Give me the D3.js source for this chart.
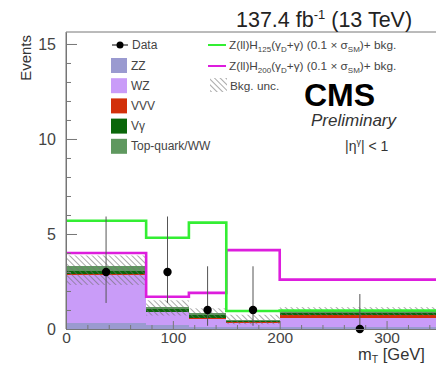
<!DOCTYPE html>
<html><head><meta charset="utf-8">
<script src="https://cdn.jsdelivr.net/npm/d3@7"></script>
<style>body{margin:0;background:#fff;overflow:hidden} svg{display:block;font-family:"Liberation Sans",Arial,Helvetica,sans-serif;}</style>
</head><body>
<svg id="c" width="436" height="365"></svg>
<script>
// ---- data ----
const binEdges = [0, 75, 115, 150, 200, 350];
const seriesNames = ["ZZ", "WZ", "VVV", "Vγ", "Top-quark/WW"];
const zzVals  = [0.30, 0.20, 0.12, 0.08, 0.10];
const wzVals  = [2.54, 0.70, 0.40, 0.22, 0.48];
const vvvVals = [0.03, 0.02, 0.07, 0.05, 0.16];
const vgVals  = [0.20, 0.12, 0.15, 0.05, 0.12];
const topVals = [0.25, 0.12, 0.10, 0.05, 0.09];
const uncUp   = [0.55, 0.35, 0.25, 0.30, 0.20];
const uncDown = [1.00, 0.45, 0.25, 0.20, 0.25];
const sig125  = [5.7, 4.8, 5.6, 0.95, 0.97];
const sig200  = [4.0, 1.7, 1.9, 4.15, 2.6];
const dataVals = [3, 3, 1, 1, 0];
const dataErrLow  = [1.63, 1.63, 0.83, 0.83, 0];
const dataErrHigh = [2.92, 2.92, 2.30, 2.30, 1.84];
const yMajorTicks = [0, 5, 10, 15];
const xMajorTicks = [0, 100, 200, 300];

const colors = {"ZZ":"#9a9ad0","WZ":"#c99cf8","VVV":"#d2300a","Vγ":"#0a660a","Top-quark/WW":"#5f985f"};

// ---- layout ----
const svg = d3.select("#c");
const x = d3.scaleLinear().domain([0, 350]).range([66, 440]);
const y = d3.scaleLinear().domain([0, 15.63]).range([329, 32]);

const defs = svg.append("defs");
const pat = defs.append("pattern").attr("id","hatch").attr("patternUnits","userSpaceOnUse")
  .attr("width",4).attr("height",4).attr("patternTransform","rotate(-45)");
pat.append("line").attr("x1",0).attr("y1",0).attr("x2",0).attr("y2",4)
  .attr("stroke","#707070").attr("stroke-width",1.5).attr("stroke-opacity",0.8);

// stacked rows
const rows = binEdges.slice(0,-1).map((e,i)=>({
  lo:e, hi:binEdges[i+1],
  "ZZ":zzVals[i], "WZ":wzVals[i], "VVV":vvvVals[i], "Vγ":vgVals[i], "Top-quark/WW":topVals[i]
}));
const stack = d3.stack().keys(seriesNames)(rows);

const gStack = svg.append("g");
stack.forEach(layer=>{
  gStack.selectAll(null).data(layer).enter().append("rect")
    .attr("x", d=>x(d.data.lo)).attr("width", d=>x(d.data.hi)-x(d.data.lo))
    .attr("y", d=>y(d[1])).attr("height", d=>Math.max(0, y(d[0])-y(d[1])))
    .attr("fill", colors[layer.key]).attr("shape-rendering","crispEdges");
});
// uncertainty band
const totals = rows.map(r=>seriesNames.reduce((s,k)=>s+r[k],0));
svg.append("g").selectAll("rect").data(rows).enter().append("rect")
  .attr("x", d=>x(d.lo)).attr("width", d=>x(d.hi)-x(d.lo))
  .attr("y", (d,i)=>y(totals[i]+uncUp[i]))
  .attr("height", (d,i)=>y(totals[i]-uncDown[i]) - y(totals[i]+uncUp[i]))
  .attr("fill","url(#hatch)");

// signal step lines
function stepPts(vals){
  const pts = vals.map((v,i)=>[binEdges[i], v]);
  pts.push([binEdges[binEdges.length-1], vals[vals.length-1]]);
  return pts;
}
const stepLine = d3.line().x(d=>x(d[0])).y(d=>y(d[1])).curve(d3.curveStepAfter);
svg.append("path").attr("d", stepLine(stepPts(sig200))).attr("fill","none")
  .attr("stroke","#dd1ddd").attr("stroke-width",2.6);
svg.append("path").attr("d", stepLine(stepPts(sig125))).attr("fill","none")
  .attr("stroke","#33ee33").attr("stroke-width",2.6);

// data points
const centers = rows.map(r=>(r.lo+r.hi)/2);
const gData = svg.append("g");
dataVals.forEach((v,i)=>{
  gData.append("line").attr("x1",x(centers[i])).attr("x2",x(centers[i]))
    .attr("y1",y(v-dataErrLow[i])).attr("y2",y(v+dataErrHigh[i]))
    .attr("stroke","#555").attr("stroke-width",1);
  gData.append("circle").attr("cx",x(centers[i])).attr("cy",y(v)).attr("r",4.2).attr("fill","#000");
});

// axes
const axisCol = "#777", labCol = "#444";
function styleAxis(g, fs){
  g.selectAll("path.domain").attr("stroke",axisCol);
  g.selectAll(".tick line").attr("stroke",axisCol);
  g.selectAll(".tick text").attr("fill",labCol).attr("font-size",fs || 16)
    .attr("font-family",'"Liberation Sans",Arial,sans-serif');
}
const yMinor = d3.range(0,16).filter(v=>v%5!==0);
svg.append("g").attr("transform","translate(66,0)")
  .call(d3.axisLeft(y).tickValues(yMinor).tickSizeInner(-5).tickSizeOuter(0).tickFormat(""))
  .call(g=>{g.select(".domain").remove(); styleAxis(g);});
svg.append("g").attr("transform","translate(66,0)")
  .call(d3.axisLeft(y).tickValues(yMajorTicks).tickSizeInner(-11).tickSizeOuter(0).tickPadding(10).tickFormat(d3.format("d")))
  .call(g=>styleAxis(g,16));
const xMinor = d3.range(0,351,20).filter(v=>v%100!==0);
svg.append("g").attr("transform","translate(0,329)")
  .call(d3.axisBottom(x).tickValues(xMinor).tickSizeInner(-4).tickSizeOuter(0).tickFormat(""))
  .call(g=>{g.select(".domain").remove(); styleAxis(g);});
svg.append("g").attr("transform","translate(0,329)")
  .call(d3.axisBottom(x).tickValues(xMajorTicks).tickSizeInner(-8).tickSizeOuter(0).tickPadding(3).tickFormat(d3.format("d")))
  .call(g=>styleAxis(g,15.5));
// frame
svg.append("line").attr("x1",x(0)).attr("x2",x(350)).attr("y1",y(15.63)).attr("y2",y(15.63))
  .attr("stroke",axisCol);
svg.append("line").attr("x1",x(0)).attr("x2",x(0)).attr("y1",y(15.63)).attr("y2",y(0))
  .attr("stroke",axisCol);

// axis titles
svg.append("text").attr("transform","translate(31,35) rotate(-90)").attr("text-anchor","end")
  .attr("font-size",15).attr("fill","#333").text("Events");
const xt = svg.append("text").attr("x",358).attr("y",360).attr("font-size",16.5).attr("fill","#333");
xt.append("tspan").text("m");
xt.append("tspan").attr("font-size",10.5).attr("dy",3).text("T");
xt.append("tspan").attr("dy",-3).text(" [GeV]");

// header
const hd = svg.append("text").attr("x",236).attr("y",27).attr("font-size",21.5).attr("fill","#222");
hd.append("tspan").text("137.4 fb");
hd.append("tspan").attr("font-size",13).attr("dy",-8).text("-1");
hd.append("tspan").attr("dy",8).text(" (13 TeV)");

svg.append("text").attr("x",304).attr("y",106).attr("font-size",32).attr("font-weight","bold")
  .attr("fill","#000").text("CMS");
svg.append("text").attr("x",311).attr("y",126).attr("font-size",17).attr("font-style","italic")
  .attr("fill","#333").text("Preliminary");
const eta = svg.append("text").attr("x",345).attr("y",151).attr("font-size",14).attr("fill","#333");
eta.append("tspan").text("|η");
eta.append("tspan").attr("font-size",9).attr("dy",-6).text("γ");
eta.append("tspan").attr("dy",6).text("| < 1");

// legend left
const lg = svg.append("g").attr("font-size",12).attr("fill","#444");
lg.append("line").attr("x1",112).attr("x2",128).attr("y1",45).attr("y2",45).attr("stroke","#000");
lg.append("circle").attr("cx",120).attr("cy",45).attr("r",3.5).attr("fill","#000");
lg.append("text").attr("x",132).attr("y",49).text("Data");
seriesNames.forEach((k,i)=>{
  const cy = 65.5 + i*20.2;
  lg.append("rect").attr("x",111).attr("y",cy-7.5).attr("width",16).attr("height",15).attr("fill",colors[k]);
  lg.append("text").attr("x",131).attr("y",cy+4).text(k);
});
// legend right
const sigLeg = [{c:"#33ee33",m:"125",y:45},{c:"#dd1ddd",m:"200",y:66}];
sigLeg.forEach(s=>{
  lg.append("line").attr("x1",208).attr("x2",226).attr("y1",s.y).attr("y2",s.y)
    .attr("stroke",s.c).attr("stroke-width",2);
  const t = lg.append("text").attr("x",229).attr("y",s.y+4).attr("font-size",11.8);
  t.append("tspan").text("Z(ll)H");
  t.append("tspan").attr("font-size",8).attr("dy",3).text(s.m);
  t.append("tspan").attr("dy",-3).text("(γ");
  t.append("tspan").attr("font-size",8).attr("dy",3).text("D");
  t.append("tspan").attr("dy",-3).text("+γ) (0.1 × σ");
  t.append("tspan").attr("font-size",8).attr("dy",3).text("SM");
  t.append("tspan").attr("dy",-3).text(")+ bkg.");
});
lg.append("rect").attr("x",210).attr("y",78).attr("width",17).attr("height",14).attr("fill","url(#hatch)");
lg.append("text").attr("x",230).attr("y",89.5).attr("font-size",11.8).text("Bkg. unc.");
</script>
</body></html>
